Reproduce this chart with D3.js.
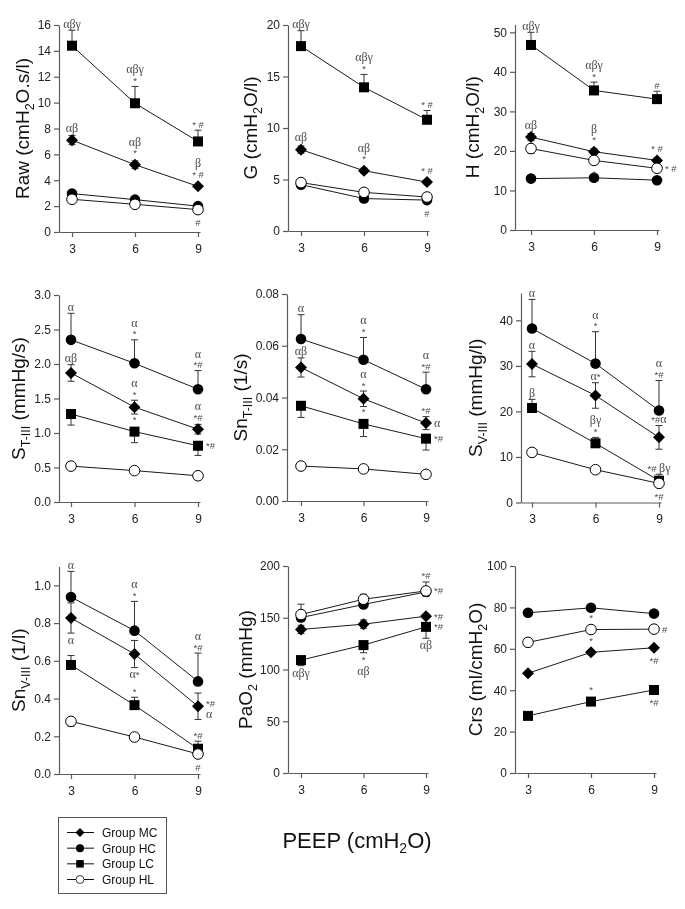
<!DOCTYPE html>
<html><head><meta charset="utf-8">
<script src="https://cdn.jsdelivr.net/npm/d3@7"></script>
<style>body{margin:0;background:#fff;} svg{display:block; will-change:transform;}</style>
</head><body>
<svg id="chart" width="685" height="909"></svg>
<script>
// ---------- DATA ----------
const peep = [3, 6, 9];
const groups = ["MC", "HC", "LC", "HL"];
const groupLabels = ["Group MC", "Group HC", "Group LC", "Group HL"];

// Raw (cmH2O.s/l)
const rawMean = [[7.1, 5.2, 3.53], [2.97, 2.5, 2.0], [14.4, 9.95, 7.0], [2.53, 2.14, 1.73]];
const rawErr  = [[0.35, 0.3, 0.12], [0.1, 0.08, 0.08], [1.2, 1.3, 0.87], [0.1, 0.1, 0.1]];
const rawDir  = ["b", "b", "u", "d"];
const rawTicks = [0, 2, 4, 6, 8, 10, 12, 14, 16];
const rawNotes = [["LC",0,"above",["αβγ"]],["LC",1,"above",["αβγ","*"]],["LC",2,"above",["* #"]],
  ["MC",0,"above",["αβ"]],["MC",1,"above",["αβ","*"]],["MC",2,"above",["β","* #"]],["HL",2,"below",["#"]]];

// G (cmH2O/l)
const gMean = [[7.9, 5.85, 4.75], [4.5, 3.15, 3.0], [17.95, 13.95, 10.8], [4.7, 3.75, 3.3]];
const gErr  = [[0.35, 0.25, 0.2], [0.2, 0.15, 0.15], [1.5, 1.25, 0.9], [0.15, 0.1, 0.1]];
const gDir  = ["b", "d", "u", "u"];
const gTicks = [0, 5, 10, 15, 20];
const gNotes = [["LC",0,"above",["αβγ"]],["LC",1,"above",["αβγ","*"]],["LC",2,"above",["* #"]],
  ["MC",0,"above",["αβ"]],["MC",1,"above",["αβ","*"]],["MC",2,"above",["* #"]],["HC",2,"below",["#"]]];

// H (cmH2O/l)
const hMean = [[23.5, 19.8, 17.6], [13.0, 13.2, 12.6], [46.8, 35.3, 33.1], [20.6, 17.6, 15.6]];
const hErr  = [[0.9, 0.8, 0.6], [0.4, 0.4, 0.4], [3.2, 2.1, 2.0], [1.2, 1.0, 0.6]];
const hDir  = ["b", "b", "u", "d"];
const hTicks = [0, 10, 20, 30, 40, 50];
const hNotes = [["LC",0,"above",["αβγ"]],["LC",1,"above",["αβγ","*"]],["LC",2,"above",["#"]],
  ["MC",0,"above",["αβ"]],["MC",1,"above",["β","*"]],["MC",2,"above",["* #"]],
  ["HL",1,"below",["*"]],["HL",2,"right",["* #"]]];

// S T-III (mmHg/s)
const stMean = [[1.87, 1.375, 1.055], [2.35, 2.01, 1.635], [1.275, 1.02, 0.815], [0.52, 0.455, 0.38]];
const stErr  = [[0.12, 0.1, 0.07], [0.385, 0.34, 0.27], [0.16, 0.16, 0.14], [0.05, 0.02, 0.02]];
const stDir  = ["b", "u", "d", "b"];
const stTicks = [0, 0.5, 1.0, 1.5, 2.0, 2.5, 3.0];
const stNotes = [["HC",0,"above",["α"]],["HC",1,"above",["α","*"]],["HC",2,"above",["α","*#"]],
  ["MC",0,"above",["αβ"]],["MC",1,"above",["α","*"]],["MC",2,"above",["α","*#"]],
  ["LC",1,"above",["*"]],["LC",2,"right",["*#"]]];

// Sn T-III (1/s)
const sntMean = [[0.0516, 0.0395, 0.0301], [0.0626, 0.0546, 0.0432], [0.0368, 0.0298, 0.0241], [0.0135, 0.0124, 0.0103]];
const sntErr  = [[0.0037, 0.003, 0.0025], [0.0094, 0.0086, 0.0066], [0.0045, 0.0049, 0.0044], [0.0005, 0.0005, 0.0005]];
const sntDir  = ["b", "u", "d", "b"];
const sntTicks = [0, 0.02, 0.04, 0.06, 0.08];
const sntNotes = [["HC",0,"above",["α"]],["HC",1,"above",["α","*"]],["HC",2,"above",["α","*#"]],
  ["MC",0,"above",["αβ"]],["MC",1,"above",["α","*"]],["MC",2,"above",["*#"]],["MC",2,"right",["α"]],
  ["LC",1,"above",["*"]],["LC",2,"right",["*#"]]];

// S V-III (mmHg/l)
const svMean = [[30.4, 23.5, 14.3], [38.2, 30.5, 20.2], [20.75, 13.0, 4.8], [11.0, 7.2, 4.2]];
const svErr  = [[2.8, 2.8, 2.6], [6.4, 7.0, 6.6], [1.9, 1.3, 1.4], [0.9, 0.7, 0.8]];
const svDir  = ["b", "u", "u", "d"];
const svTicks = [0, 10, 20, 30, 40];
const svNotes = [["HC",0,"above",["α"]],["HC",1,"above",["α","*"]],["HC",2,"above",["α","*#"]],
  ["MC",0,"above",["α"]],["MC",1,"above",["α*"]],["MC",2,"above",["*#α"]],
  ["LC",0,"above",["β"]],["LC",1,"above",["βγ","*"]],["LC",2,"above",["*# βγ"]],["HL",2,"below",["*#"]]];

// Sn V-III (1/l)
const snvMean = [[0.827, 0.636, 0.359], [0.938, 0.76, 0.491], [0.578, 0.365, 0.134], [0.279, 0.196, 0.106]];
const snvErr  = [[0.08, 0.072, 0.07], [0.136, 0.155, 0.15], [0.05, 0.042, 0.04], [0.025, 0.02, 0.02]];
const snvDir  = ["b", "u", "u", "d"];
const snvTicks = [0, 0.2, 0.4, 0.6, 0.8, 1.0];
const snvNotes = [["HC",0,"above",["α"]],["HC",1,"above",["α","*"]],["HC",2,"above",["α","*#"]],
  ["MC",0,"below",["α"]],["MC",1,"below",["α*"]],["MC",2,"right",["*#","α"]],
  ["LC",1,"above",["*"]],["LC",2,"above",["*#"]],["HL",2,"below",["#"]]];

// PaO2 (mmHg)
const paMean = [[138.7, 143.8, 151.5], [150.2, 162.8, 175.0], [109.1, 123.6, 141.2], [153.1, 167.9, 175.9]];
const paErr  = [[4, 4, 2], [3.5, 2.5, 4.2], [5.4, 7.4, 11], [10, 4.8, 8.7]];
const paDir  = ["b", "d", "d", "u"];
const paTicks = [0, 50, 100, 150, 200];
const paNotes = [["LC",0,"below",["αβγ"]],["LC",1,"below",["*","αβ"]],["LC",2,"below",["αβ"]],
  ["HL",2,"above",["*#"]],["HL",2,"right",["*#"]],["MC",2,"right",["*#"]],["LC",2,"right",["*#"]]];

// Crs (ml/cmH2O)
const crsMean = [[48.2, 58.3, 60.5], [77.4, 79.8, 77.0], [27.6, 34.5, 40.1], [63.1, 69.3, 69.5]];
const crsErr  = [[0.8, 0.8, 0.8], [0.5, 0.5, 0.5], [0.6, 0.6, 1.5], [2, 1.2, 1.5]];
const crsDir  = ["b", "b", "d", "d"];
const crsTicks = [0, 20, 40, 60, 80, 100];
const crsNotes = [["HL",1,"above",["*"]],["MC",1,"above",["*"]],["HL",2,"right",["#"]],
  ["MC",2,"below",["*#"]],["LC",1,"above",["*"]],["LC",2,"below",["*#"]]];

// ---------- PANELS (layout) ----------
const panels = [
  {mean: rawMean, err: rawErr, dir: rawDir, ticks: rawTicks, notes: rawNotes, fmt: "d", ymax: 16,
   label: [["Raw (cmH",0],["2",1],["O.s/l)",0]], left: 59, x3: 72, x9: 198, y0: 232, yMax: 25, labX: 22},
  {mean: gMean, err: gErr, dir: gDir, ticks: gTicks, notes: gNotes, fmt: "d", ymax: 20,
   label: [["G (cmH",0],["2",1],["O/l)",0]], left: 288, x3: 301, x9: 427, y0: 231, yMax: 25, labX: 250},
  {mean: hMean, err: hErr, dir: hDir, ticks: hTicks, notes: hNotes, fmt: "d", ymax: 52,
   label: [["H (cmH",0],["2",1],["O/l)",0]], left: 515, x3: 531, x9: 657, y0: 230, yMax: 24.4, labX: 472},
  {mean: stMean, err: stErr, dir: stDir, ticks: stTicks, notes: stNotes, fmt: ".1f", ymax: 3,
   label: [["S",0],["T-III",1],[" (mmHg/s)",0]], left: 59, x3: 71, x9: 198, y0: 502, yMax: 295, labX: 18},
  {mean: sntMean, err: sntErr, dir: sntDir, ticks: sntTicks, notes: sntNotes, fmt: ".2f", ymax: 0.08,
   label: [["Sn",0],["T-III",1],[" (1/s)",0]], left: 287, x3: 301, x9: 426, y0: 501, yMax: 294, labX: 240},
  {mean: svMean, err: svErr, dir: svDir, ticks: svTicks, notes: svNotes, fmt: "d", ymax: 46,
   label: [["S",0],["V-III",1],[" (mmHg/l)",0]], left: 521, x3: 532, x9: 659, y0: 502.5, yMax: 293, labX: 475},
  {mean: snvMean, err: snvErr, dir: snvDir, ticks: snvTicks, notes: snvNotes, fmt: ".1f", ymax: 1.1,
   label: [["Sn",0],["V-III",1],[" (1/l)",0]], left: 59, x3: 71, x9: 198, y0: 774, yMax: 566.5, labX: 18},
  {mean: paMean, err: paErr, dir: paDir, ticks: paTicks, notes: paNotes, fmt: "d", ymax: 200,
   label: [["PaO",0],["2",1],[" (mmHg)",0]], left: 288, x3: 301, x9: 426, y0: 773, yMax: 566, labX: 245},
  {mean: crsMean, err: crsErr, dir: crsDir, ticks: crsTicks, notes: crsNotes, fmt: "d", ymax: 100,
   label: [["Crs (ml/cmH",0],["2",1],["O)",0]], left: 515, x3: 528, x9: 654, y0: 773, yMax: 566, labX: 475}
];

const svg = d3.select("#chart");
const SANS = "'Liberation Sans', Arial, sans-serif";
const SERIF = "'Liberation Serif', 'Times New Roman', serif";
const AX = "#5a5a5a";

function marker(sel, g, cx, cy) {
  if (g === "MC") {
    const s = 6;
    sel.append("path").attr("d", `M${cx},${cy - s}L${cx + s},${cy}L${cx},${cy + s}L${cx - s},${cy}Z`).attr("fill", "#000");
  } else if (g === "LC") {
    sel.append("rect").attr("x", cx - 5).attr("y", cy - 5).attr("width", 10).attr("height", 10).attr("fill", "#000");
  } else if (g === "HC") {
    sel.append("circle").attr("cx", cx).attr("cy", cy).attr("r", 5.3).attr("fill", "#000");
  } else {
    sel.append("circle").attr("cx", cx).attr("cy", cy).attr("r", 5.3).attr("fill", "#fff").attr("stroke", "#000").attr("stroke-width", 1);
  }
}

function noteText(sel, str, x, yCenter, anchor) {
  const t = sel.append("text").attr("x", x).attr("y", yCenter + 3.5).attr("text-anchor", anchor).attr("fill", "#4a4a4a");
  for (const ch of str) {
    const greek = /[αβγ]/.test(ch);
    t.append("tspan").text(ch)
      .attr("font-family", greek ? SERIF : SANS)
      .attr("font-size", greek ? 12 : 9.5);
  }
}

panels.forEach(p => {
  const g = svg.append("g");
  const pxPerUnit = (p.x9 - p.x3) / 6;
  const x = d3.scaleLinear().domain([3 - (p.x3 - p.left) / pxPerUnit, 9 + 2 / pxPerUnit]).range([p.left, p.x9 + 2]);
  const y = d3.scaleLinear().domain([0, p.ymax]).range([p.y0, p.yMax]);

  // axes
  const ya = g.append("g").attr("transform", `translate(${p.left},0)`)
    .call(d3.axisLeft(y).tickValues(p.ticks).tickSize(5).tickSizeOuter(0).tickFormat(d3.format(p.fmt)));
  const xa = g.append("g").attr("transform", `translate(0,${p.y0})`)
    .call(d3.axisBottom(x).tickValues(peep).tickSize(5).tickSizeOuter(0).tickFormat(d3.format("d")));
  [ya, xa].forEach(a => {
    a.select(".domain").attr("stroke", AX).attr("stroke-width", 1.2);
    a.selectAll(".tick line").attr("stroke", AX).attr("stroke-width", 1.2);
    a.selectAll(".tick text").attr("fill", "#222").attr("font-family", SANS).attr("font-size", 12);
  });
  xa.selectAll(".tick text").attr("dy", "1.05em");

  // y label
  const cy = (p.y0 + p.yMax) / 2;
  const lt = g.append("text").attr("transform", `translate(${p.labX + 7},${cy}) rotate(-90)`)
    .attr("text-anchor", "middle").attr("font-family", SANS).attr("font-size", 19).attr("fill", "#111");
  let pend = 0;
  p.label.forEach(([s, sub]) => {
    const ts = lt.append("tspan").text(s).attr("font-size", sub ? 12.5 : 19);
    if (sub) { ts.attr("dy", 5); pend = -5; }
    else { if (pend) ts.attr("dy", pend); pend = 0; }
  });

  // lines
  const line = d3.line().x((d, i) => x(peep[i])).y(d => y(d));
  groups.forEach((grp, gi) => {
    g.append("path").attr("d", line(p.mean[gi])).attr("fill", "none").attr("stroke", "#1a1a1a").attr("stroke-width", 1);
  });
  // error bars
  groups.forEach((grp, gi) => {
    p.mean[gi].forEach((m, i) => {
      const e = p.err[gi][i], dir = p.dir[gi];
      const cx = x(peep[i]);
      const ends = [];
      if (dir === "u" || dir === "b") ends.push(m + e);
      if (dir === "d" || dir === "b") ends.push(m - e);
      ends.forEach(v => {
        g.append("line").attr("x1", cx).attr("x2", cx).attr("y1", y(m)).attr("y2", y(v)).attr("stroke", "#333").attr("stroke-width", 1);
        g.append("line").attr("x1", cx - 3.5).attr("x2", cx + 3.5).attr("y1", y(v)).attr("y2", y(v)).attr("stroke", "#333").attr("stroke-width", 1);
      });
    });
  });
  // markers
  groups.forEach((grp, gi) => {
    p.mean[gi].forEach((m, i) => marker(g, grp, x(peep[i]), y(m)));
  });
  // notes
  const ng = g.append("g").attr("opacity", 0.99);
  p.notes.forEach(([grp, i, side, lines]) => {
    const gi = groups.indexOf(grp);
    const m = p.mean[gi][i], e = p.err[gi][i], dir = p.dir[gi];
    const cx = x(peep[i]);
    if (side === "above") {
      const top = (dir === "u" || dir === "b") ? Math.min(y(m + e), y(m) - 6) : y(m) - 6;
      lines.forEach((s, k) => {
        const yc = top - 6 - (lines.length - 1 - k) * 10.5;
        noteText(ng, s, cx, yc, "middle");
      });
    } else if (side === "below") {
      const bot = (dir === "d" || dir === "b") ? Math.max(y(m - e), y(m) + 6) : y(m) + 6;
      lines.forEach((s, k) => noteText(ng, s, cx, bot + 7 + k * 11.5, "middle"));
    } else {
      const off = (lines.length - 1) * 3;
      lines.forEach((s, k) => noteText(ng, s, cx + 8, y(m) - off + k * 11.5, "start"));
    }
  });
});

// x label
const xl = svg.append("text").attr("x", 357).attr("y", 848).attr("text-anchor", "middle")
  .attr("font-family", SANS).attr("font-size", 22).attr("fill", "#111");
xl.append("tspan").text("PEEP (cmH");
xl.append("tspan").text("2").attr("font-size", 14).attr("dy", 5);
xl.append("tspan").text("O)").attr("dy", -5);

// legend
const lg = svg.append("g");
lg.append("rect").attr("x", 58.5).attr("y", 817.5).attr("width", 108).attr("height", 76)
  .attr("fill", "#fff").attr("stroke", "#555").attr("stroke-width", 1);
const legY = d3.scalePoint().domain(groups).range([832.5, 879.5]);
groups.forEach((grp, gi) => {
  const yy = legY(grp);
  lg.append("line").attr("x1", 67).attr("x2", 94).attr("y1", yy).attr("y2", yy).attr("stroke", "#111");
  const ms = lg.append("g").attr("transform", `translate(80,${yy}) scale(0.75) translate(-80,${-yy})`);
  marker(ms, grp, 80, yy);
  lg.append("text").attr("x", 102).attr("y", yy + 4.5).text(groupLabels[gi])
    .attr("font-family", SANS).attr("font-size", 12).attr("fill", "#111");
});
</script>
</body></html>
